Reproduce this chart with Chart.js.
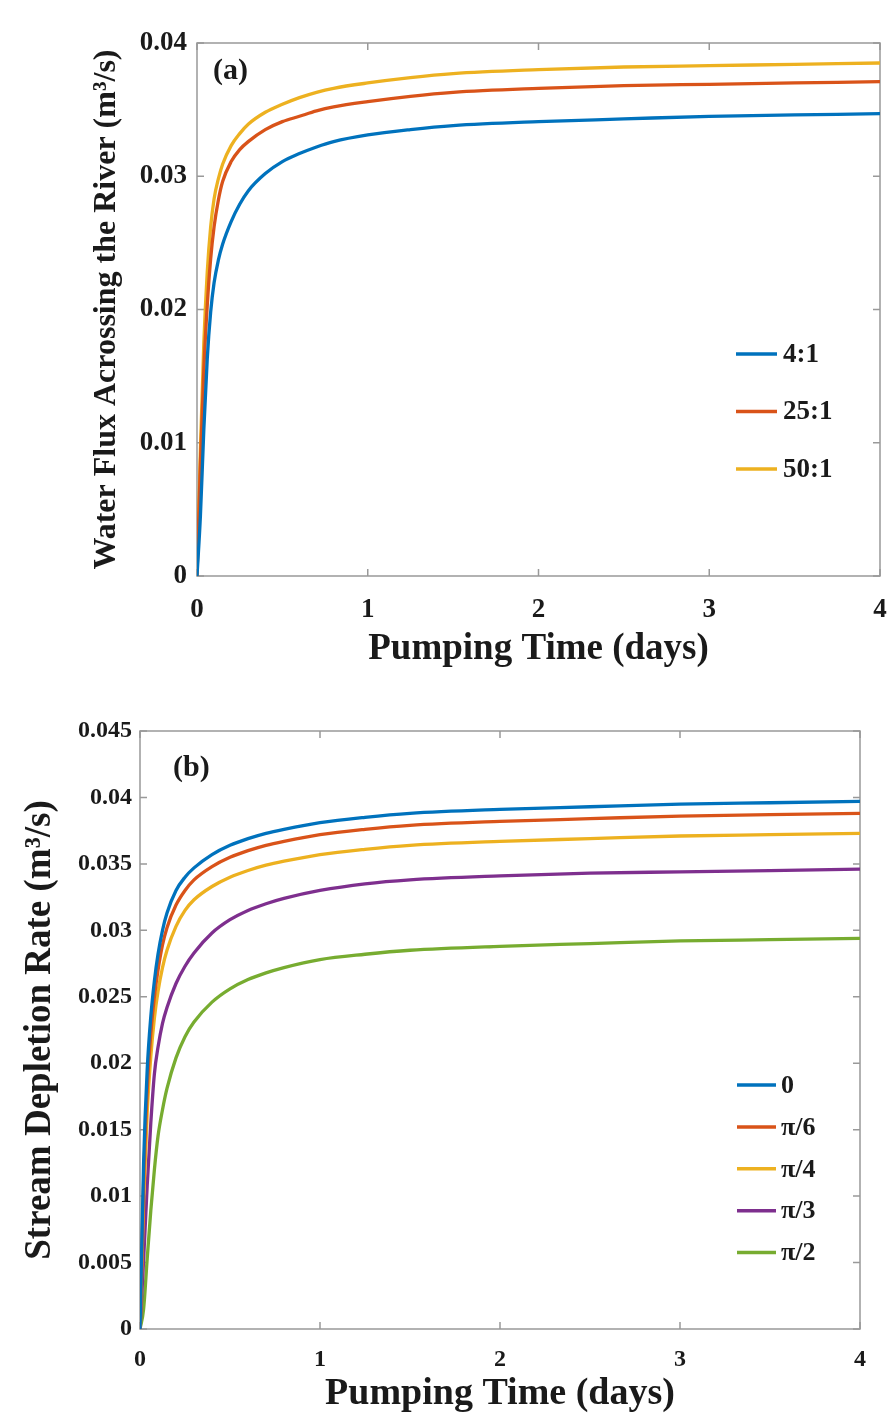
<!DOCTYPE html>
<html>
<head>
<meta charset="utf-8">
<script src="https://cdn.jsdelivr.net/npm/chart.js@4.4.1/dist/chart.umd.min.js"></script>
<style>
  body { margin: 0; background: #fff; }
  canvas { position: absolute; left: 0; }
</style>
</head>
<body>
<canvas id="graficoA" width="891" height="700" style="top:0px"></canvas>
<canvas id="graficoB" width="891" height="718" style="top:700px"></canvas>
<script>
// tempo de bombeamento (dias) - mesmo para os dois paineis
const tempo = [0, 0.02, 0.04, 0.06, 0.08, 0.1, 0.125, 0.15, 0.2, 0.25, 0.3, 0.4, 0.5, 0.6, 0.7, 0.8, 1, 1.25, 1.5, 2, 2.5, 3, 3.5, 4];

// painel (a): fluxo de agua atravessando o rio
const rotulosA = ['4:1', '25:1', '50:1'];
const fluxo4 = [0, 0.0045, 0.011, 0.0163, 0.0198, 0.0220, 0.0237, 0.0249, 0.0266, 0.0279, 0.0289, 0.0302, 0.0311, 0.0317, 0.0322, 0.0326, 0.0331, 0.0335, 0.0338, 0.0341, 0.0343, 0.0345, 0.0346, 0.0347];
const fluxo25 = [0, 0.0085, 0.0155, 0.0203, 0.0238, 0.0262, 0.0282, 0.0296, 0.0311, 0.0320, 0.0326, 0.0335, 0.0341, 0.0345, 0.0349, 0.0352, 0.0356, 0.0360, 0.0363, 0.0366, 0.0368, 0.0369, 0.0370, 0.0371];
const fluxo50 = [0, 0.0095, 0.0175, 0.0228, 0.0262, 0.0283, 0.0298, 0.0309, 0.0323, 0.0332, 0.0339, 0.0348, 0.0354, 0.0359, 0.0363, 0.0366, 0.0370, 0.0374, 0.0377, 0.0380, 0.0382, 0.0383, 0.0384, 0.0385];
const ticksYA = [0, 0.01, 0.02, 0.03, 0.04];

// painel (b): taxa de deplecao do rio
const rotulosB = ['0', 'π/6', 'π/4', 'π/3', 'π/2'];
const deplecao0 = [0, 0.0125, 0.0195, 0.0235, 0.0262, 0.0282, 0.0300, 0.0313, 0.0330, 0.0340, 0.0347, 0.0357, 0.0364, 0.0369, 0.0373, 0.0376, 0.0381, 0.0385, 0.0388, 0.0391, 0.0393, 0.0395, 0.0396, 0.0397];
const deplecaoPi6 = [0, 0.011, 0.018, 0.0222, 0.0250, 0.0270, 0.0289, 0.0302, 0.0319, 0.0330, 0.0338, 0.0348, 0.0355, 0.0360, 0.0364, 0.0367, 0.0372, 0.0376, 0.0379, 0.0382, 0.0384, 0.0386, 0.0387, 0.0388];
const deplecaoPi4 = [0, 0.0095, 0.0163, 0.0205, 0.0234, 0.0254, 0.0272, 0.0285, 0.0303, 0.0315, 0.0323, 0.0333, 0.0340, 0.0345, 0.0349, 0.0352, 0.0357, 0.0361, 0.0364, 0.0367, 0.0369, 0.0371, 0.0372, 0.0373];
const deplecaoPi3 = [0, 0.0052, 0.0108, 0.0155, 0.0192, 0.0212, 0.0230, 0.0242, 0.0260, 0.0273, 0.0283, 0.0298, 0.0308, 0.0315, 0.0320, 0.0324, 0.0330, 0.0335, 0.0338, 0.0341, 0.0343, 0.0344, 0.0345, 0.0346];
const deplecaoPi2 = [0, 0.0015, 0.0053, 0.0089, 0.0120, 0.0145, 0.0165, 0.0181, 0.0204, 0.0220, 0.0231, 0.0246, 0.0256, 0.0263, 0.0268, 0.0272, 0.0278, 0.0282, 0.0285, 0.0288, 0.0290, 0.0292, 0.0293, 0.0294];
const ticksYB = [0, 0.005, 0.01, 0.015, 0.02, 0.025, 0.03, 0.035, 0.04, 0.045];

const cores = ['#0072BD', '#D95319', '#EDB120', '#7E2F8E', '#77AC30'];
const fonte = 'Liberation Serif, "Times New Roman", serif';

// caixa estilo MATLAB com ticks para dentro
const caixaEixos = {
    id: 'caixaEixos',
    beforeDatasetsDraw(chart, args, opts) {
        const { ctx, chartArea: a, scales } = chart;
        const tam = opts.tam || 7;
        ctx.save();
        ctx.strokeStyle = '#999';
        ctx.lineWidth = 1.5;
        ctx.strokeRect(a.left, a.top, a.right - a.left, a.bottom - a.top);
        ctx.beginPath();
        scales.x.ticks.forEach(t => {
            const px = scales.x.getPixelForValue(t.value);
            ctx.moveTo(px, a.bottom); ctx.lineTo(px, a.bottom - tam);
            ctx.moveTo(px, a.top); ctx.lineTo(px, a.top + tam);
        });
        scales.y.ticks.forEach(t => {
            const py = scales.y.getPixelForValue(t.value);
            ctx.moveTo(a.left, py); ctx.lineTo(a.left + tam, py);
            ctx.moveTo(a.right, py); ctx.lineTo(a.right - tam, py);
        });
        ctx.stroke();
        ctx.restore();
    }
};

// legenda desenhada dentro da area do grafico
const legendaInterna = {
    id: 'legendaInterna',
    afterDraw(chart, args, opts) {
        const ctx = chart.ctx;
        ctx.save();
        ctx.font = opts.font;
        ctx.textBaseline = 'middle';
        chart.data.datasets.forEach((ds, i) => {
            const y = opts.y + i * opts.dy;
            ctx.strokeStyle = ds.borderColor;
            ctx.lineWidth = 3.5;
            ctx.beginPath();
            ctx.moveTo(opts.x, y);
            ctx.lineTo(opts.x + opts.len, y);
            ctx.stroke();
            ctx.fillStyle = '#1a1a1a';
            ctx.fillText(ds.label, opts.x + opts.len + opts.gap, y + 1);
        });
        // rotulo do painel
        ctx.font = opts.painelFont;
        ctx.fillStyle = '#1a1a1a';
        ctx.fillText(opts.painel, opts.px, opts.py);
        ctx.restore();
    }
};

function montarSeries(rotulos, series) {
    return series.map((s, i) => ({
        label: rotulos[i],
        data: tempo.map((t, k) => ({ x: t, y: s[k] })),
        borderColor: cores[i],
        borderWidth: 3.3,
        pointRadius: 0,
        cubicInterpolationMode: 'monotone',
        fill: false
    }));
}

function formatar(v) {
    return String(parseFloat(Number(v).toFixed(4)));
}

function criarGrafico(id, cfg) {
    return new Chart(document.getElementById(id), {
        type: 'line',
        data: { datasets: montarSeries(cfg.rotulos, cfg.series) },
        options: {
            responsive: false,
            animation: false,
            layout: { padding: cfg.padding },
            plugins: {
                legend: { display: false },
                tooltip: { enabled: false },
                caixaEixos: {},
                legendaInterna: cfg.legenda
            },
            scales: {
                x: {
                    type: 'linear',
                    min: 0, max: 4,
                    grid: { display: false, drawTicks: false },
                    border: { display: false },
                    ticks: {
                        stepSize: 1,
                        padding: cfg.padX,
                        color: '#1a1a1a',
                        font: { family: fonte, size: cfg.tickSize, weight: 'bold' },
                        callback: formatar
                    },
                    title: {
                        display: true,
                        text: 'Pumping Time (days)',
                        color: '#1a1a1a',
                        font: { family: fonte, size: cfg.tituloX, weight: 'bold' },
                        padding: { top: 0, bottom: cfg.padTituloX }
                    },
                    afterFit(s) { s.height = cfg.altX; s.paddingLeft = 0; s.paddingRight = 0; }
                },
                y: {
                    min: 0, max: cfg.maxY,
                    grid: { display: false, drawTicks: false },
                    border: { display: false },
                    afterBuildTicks(s) { s.ticks = cfg.ticksY.map(v => ({ value: v })); },
                    ticks: {
                        padding: cfg.padY,
                        color: '#1a1a1a',
                        font: { family: fonte, size: cfg.tickSize, weight: 'bold' },
                        callback: formatar
                    },
                    title: {
                        display: true,
                        text: cfg.tituloYTexto,
                        color: '#1a1a1a',
                        font: { family: fonte, size: cfg.tituloY, weight: 'bold' },
                        padding: { top: cfg.padTituloY, bottom: 0 }
                    },
                    afterFit(s) { s.width = cfg.largY; s.paddingTop = 0; s.paddingBottom = 0; }
                }
            }
        },
        plugins: [caixaEixos, legendaInterna]
    });
}

criarGrafico('graficoA', {
    rotulos: rotulosA,
    series: [fluxo4, fluxo25, fluxo50],
    maxY: 0.04,
    ticksY: ticksYA,
    padding: { left: 0, right: 11, top: 43, bottom: 0 },
    largY: 197, altX: 124,
    tickSize: 27, padX: 18, padY: 10,
    tituloX: 37, padTituloX: 28,
    tituloY: 32, padTituloY: 88,
    tituloYTexto: 'Water Flux Acrossing the River (m³/s)',
    legenda: {
        x: 736, y: 354, dy: 57.5, len: 41, gap: 6,
        font: 'bold 27px ' + fonte,
        painel: '(a)', px: 213, py: 71, painelFont: 'bold 30px ' + fonte
    }
});

criarGrafico('graficoB', {
    rotulos: rotulosB,
    series: [deplecao0, deplecaoPi6, deplecaoPi4, deplecaoPi3, deplecaoPi2],
    maxY: 0.045,
    ticksY: ticksYB,
    padding: { left: 0, right: 31, top: 31, bottom: 0 },
    largY: 140, altX: 89,
    tickSize: 24, padX: 16, padY: 8,
    tituloX: 38, padTituloX: 1,
    tituloY: 37, padTituloY: 18,
    tituloYTexto: 'Stream Depletion Rate (m³/s)',
    legenda: {
        x: 737, y: 385, dy: 41.9, len: 39, gap: 5,
        font: 'bold 26px ' + fonte,
        painel: '(b)', px: 173, py: 68, painelFont: 'bold 30px ' + fonte
    }
});
</script>
</body>
</html>
